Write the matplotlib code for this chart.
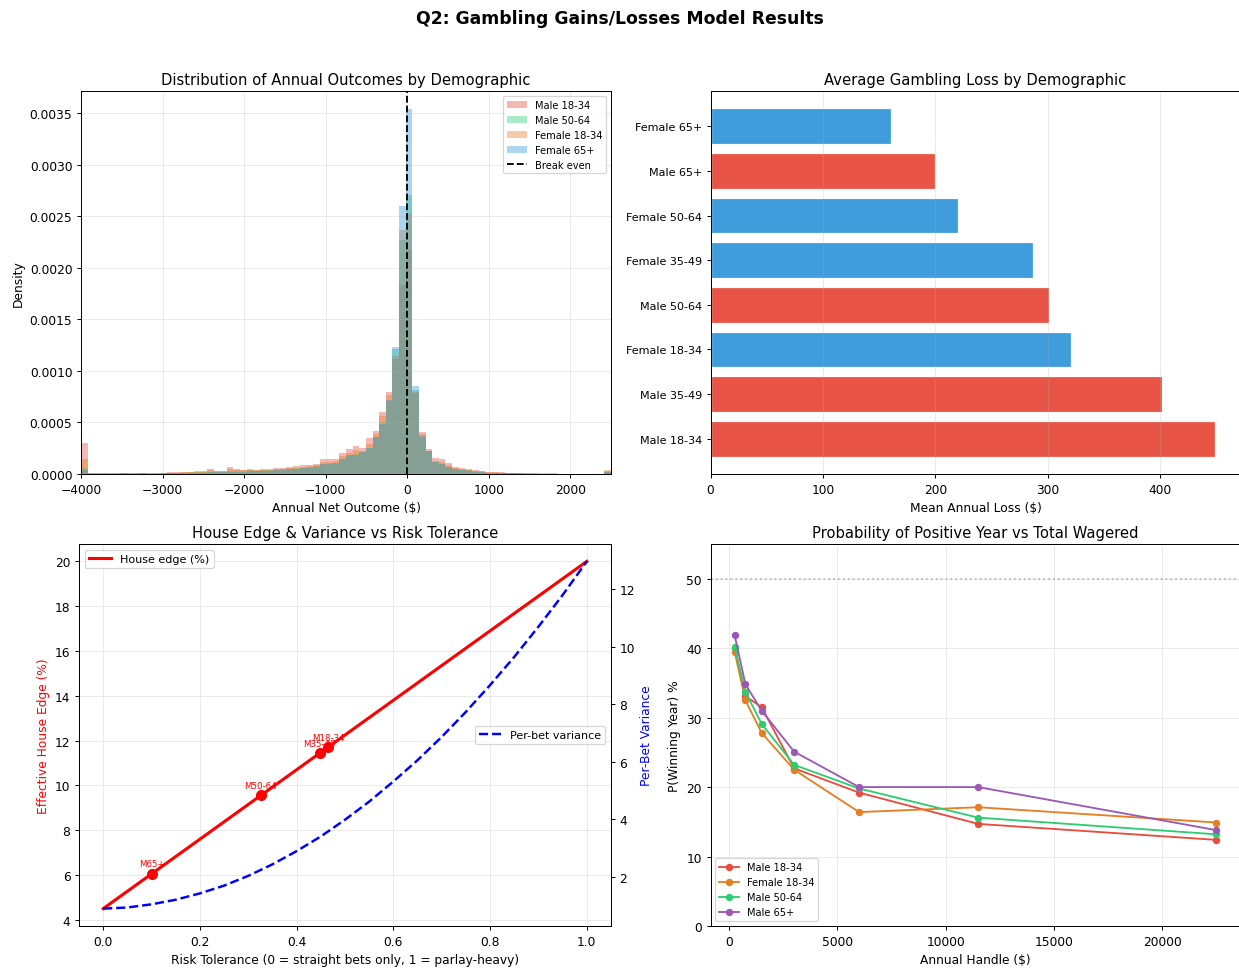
import matplotlib
matplotlib.use("Agg")
import matplotlib.pyplot as plt
import numpy as np

# ---- histogram: density per bin (x 1e-5), 80 bins from -4000 to 2500 ----
bin_edges = np.linspace(-4000, 2500, 81)
hist_m18_34 = [30,
               1, 1, 0.5, 0.5, 1, 1, 1, 0.5, 1, 0.5, 1, 1, 1.5,
               1.5, 2, 2, 2.5, 3, 5, 3, 3, 7, 5, 4, 4.5,
               4, 4.5, 5, 5.5, 6, 6.5, 7.5, 9, 9, 10,
               14.5, 14.5, 15, 20, 24, 27.5, 25, 35, 42,
               60, 80, 112, 183, 217,
               79, 41, 24, 16, 14.5, 11, 7, 5.5, 5, 4, 3, 2, 2,
               1.5, 1, 1, 1, 0.5, 0.5, 0.5, 0.5, 0.5, 0.3, 0.3, 0.3, 0.3, 0.3, 0.3, 0.3,
               3]
hist_m50_64 = [6,
               0.5, 0.5, 0.5, 0.3, 0.5, 0.5, 1, 0.5, 0.5, 0.3, 0.5, 0.5, 0.5,
               1, 1, 1.5, 1.5, 2, 2, 2, 2, 3, 3, 3, 3.5,
               3, 3.5, 3.5, 4, 4.5, 5, 5.5, 6, 6.5, 7.5,
               10, 10.5, 11, 15, 18.5, 19, 21, 25, 36,
               50, 71, 121, 227, 271,
               82, 36, 22, 11.5, 10, 6.5, 5, 4, 3.5, 2.5, 2, 1, 1,
               1, 0.5, 0.5, 0.5, 0.3, 0.3, 0.3, 0.3, 0.2, 0.2, 0.2, 0.2, 0.2, 0.2, 0.2, 0.2,
               2]
hist_f18_34 = [14.6,
               1, 0.5, 0.5, 0.5, 0.5, 1, 0.5, 0.5, 0.5, 0.5, 1, 1, 1,
               1, 1.5, 2, 2, 2, 3.5, 2.5, 2.5, 5, 4, 3.5, 4,
               3.5, 4, 4, 4.5, 5, 5.5, 6, 7, 7.5, 8.5,
               11.5, 12, 12.5, 17, 20, 23, 22, 29, 39,
               56, 77, 115, 237, 253,
               80, 39, 22.5, 13, 12, 8.5, 5.5, 4.5, 4, 3, 2.5, 1.5, 1.5,
               1, 1, 0.5, 0.5, 0.5, 0.5, 0.3, 0.3, 0.3, 0.3, 0.3, 0.3, 0.3, 0.3, 0.3, 0.3,
               4]
hist_f65 = [4,
            0.3, 0.3, 0.3, 0.3, 0.3, 0.5, 0.3, 0.3, 0.5, 0.3, 0.3, 0.5, 0.5,
            0.5, 0.5, 1, 1, 1, 1.5, 1.5, 1.5, 2, 2, 2, 2.5,
            2.5, 3, 3, 3.5, 4, 4.5, 5, 5.5, 6, 7,
            9.5, 10, 10.5, 14.5, 18, 18.5, 21, 25, 36,
            49, 72, 123, 260, 354,
            85, 37, 22, 11.5, 9.7, 6.5, 5, 3.5, 3, 2, 1.5, 1, 1,
            0.5, 0.5, 0.5, 0.3, 0.3, 0.3, 0.2, 0.2, 0.2, 0.2, 0.2, 0.2, 0.2, 0.2, 0.2, 0.2,
            1.5]

# ---- average loss by demographic ----
loss_groups = ["Male 18-34", "Male 35-49", "Female 18-34", "Male 50-64",
               "Female 35-49", "Female 50-64", "Male 65+", "Female 65+"]
loss_values = [449, 402, 321, 301, 287, 220, 200, 161]

# ---- house edge & variance ----
risk_x = [0.0, 1.0]
house_edge = [4.5, 20.0]
var_x = [0.0, 0.05, 0.1, 0.15, 0.2, 0.25, 0.3, 0.35, 0.4, 0.45, 0.5,
         0.55, 0.6, 0.65, 0.7, 0.75, 0.8, 0.85, 0.9, 0.95, 1.0]
variance = [0.90, 0.94, 1.05, 1.21, 1.43, 1.70, 2.04, 2.44, 2.90, 3.41, 3.99,
            4.62, 5.32, 6.06, 6.87, 7.74, 8.67, 9.65, 10.7, 11.8, 12.97]
demo_labels = ["M65+", "M50-64", "M35-49", "M18-34"]
demo_risk = [0.101, 0.326, 0.448, 0.465]
demo_edge = [6.06, 9.55, 11.44, 11.71]

# ---- probability of winning year vs handle ----
handle = [250, 750, 1500, 3000, 6000, 11500, 22500]
p_m18_34 = [40.0, 33.1, 31.5, 22.7, 19.2, 14.7, 12.4]
p_f18_34 = [39.5, 32.5, 27.8, 22.5, 16.4, 17.1, 14.9]
p_m50_64 = [40.2, 33.7, 29.1, 23.2, 19.8, 15.6, 13.2]
p_m65 = [41.9, 34.8, 31.0, 25.1, 20.0, 20.0, 13.8]

W, H = 1239, 969
DPI = 88.5
fig = plt.figure(figsize=(W / DPI, H / DPI), dpi=DPI)

def px_axes(left, top, right, bottom):
    return fig.add_axes([left / W, 1 - bottom / H, (right - left) / W, (bottom - top) / H])

ax1 = px_axes(81, 92, 611, 475)
ax2 = px_axes(710.5, 92, 1240.5, 475)
ax3 = px_axes(79, 545, 611, 927)
ax4 = px_axes(710.5, 545, 1240.5, 927)

fig.suptitle("Q2: Gambling Gains/Losses Model Results", fontsize=14, fontweight="bold", y=0.99)

# histogram
centers = (bin_edges[:-1] + bin_edges[1:]) / 2
for vals, lab, col in [(hist_m18_34, "Male 18-34", "#e74c3c"),
                       (hist_m50_64, "Male 50-64", "#2ecc71"),
                       (hist_f18_34, "Female 18-34", "#e67e22"),
                       (hist_f65, "Female 65+", "#3498db")]:
    ax1.hist(centers, bins=bin_edges, weights=np.array(vals) * 1e-5, alpha=0.4, color=col, label=lab)
ax1.axvline(0, color="black", linestyle="--", linewidth=1.5, label="Break even")
ax1.set_xlim(-4000, 2500)
ax1.set_xlabel("Annual Net Outcome ($)")
ax1.set_ylabel("Density")
ax1.set_title("Distribution of Annual Outcomes by Demographic", fontsize=12)
ax1.legend(fontsize=8, loc="upper right")
ax1.grid(True, alpha=0.25)

# bar chart
bar_colors = ["#e74c3c" if g.startswith("Male") else "#3498db" for g in loss_groups]
ax2.barh(range(len(loss_groups)), loss_values, color=bar_colors, alpha=0.95, edgecolor="white")
ax2.set_yticks(range(len(loss_groups)))
ax2.set_yticklabels(loss_groups, fontsize=9)
ax2.set_xlabel("Mean Annual Loss ($)")
ax2.set_title("Average Gambling Loss by Demographic", fontsize=12)
ax2.grid(True, alpha=0.25, axis="x")

# house edge / variance
ax3.plot(risk_x, house_edge, color="red", linewidth=2.5, label="House edge (%)")
ax3.set_xlabel("Risk Tolerance (0 = straight bets only, 1 = parlay-heavy)")
ax3.set_ylabel("Effective House Edge (%)", color="red")
ax3.set_title("House Edge & Variance vs Risk Tolerance", fontsize=12)
ax3.grid(True, alpha=0.25)
for lab, xr, ye in zip(demo_labels, demo_risk, demo_edge):
    ax3.plot(xr, ye, "o", color="red", markersize=8)
    ax3.annotate(lab, (xr, ye), textcoords="offset points", xytext=(0, 6),
                 ha="center", fontsize=7, color="red")
ax3.legend(loc="upper left", fontsize=9)
ax3b = ax3.twinx()
ax3b.plot(var_x, variance, color="blue", linestyle="--", linewidth=2, label="Per-bet variance")
ax3b.set_ylabel("Per-Bet Variance", color="blue")
ax3b.legend(loc="center right", fontsize=9)

# probability of winning year
for vals, lab, col in [(p_m18_34, "Male 18-34", "#e74c3c"),
                       (p_f18_34, "Female 18-34", "#e67e22"),
                       (p_m50_64, "Male 50-64", "#2ecc71"),
                       (p_m65, "Male 65+", "#9b59b6")]:
    ax4.plot(handle, vals, "o-", color=col, label=lab, markersize=5, linewidth=1.5)
ax4.axhline(50, color="gray", linestyle=":", alpha=0.5)
ax4.set_ylim(0, 55)
ax4.set_xlabel("Annual Handle ($)")
ax4.set_ylabel("P(Winning Year) %")
ax4.set_title("Probability of Positive Year vs Total Wagered", fontsize=12)
ax4.legend(fontsize=8, loc="lower left")
ax4.grid(True, alpha=0.25)

fig.savefig("out.png", dpi=DPI)
